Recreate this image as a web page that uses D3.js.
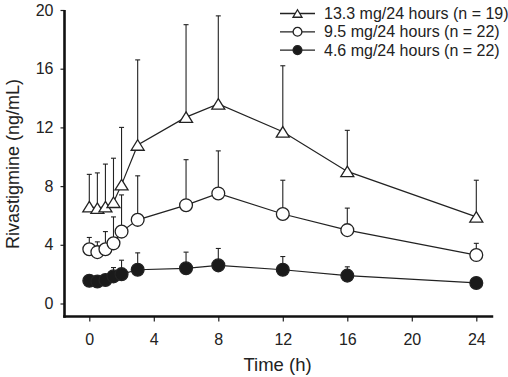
<!DOCTYPE html>
<html>
<head>
<meta charset="utf-8">
<script src="https://cdn.jsdelivr.net/npm/d3@7"></script>
<style>
  body { margin: 0; background: #fff; }
  svg text { font-family: "Liberation Sans", Arial, sans-serif; fill: #222; }
</style>
</head>
<body>
<div id="chart"></div>
<script>
// time points (h)
const time = [0, 0.5, 1, 1.5, 2, 3, 6, 8, 12, 16, 24];

// mean rivastigmine concentration (ng/mL) and SD (upper bar only)
const high = [6.6, 6.5, 6.6, 6.9, 8.1, 10.8, 12.7, 13.6, 11.7, 9.0, 5.9];
const highSd = [2.2, 2.4, 2.9, 3.0, 3.9, 5.8, 6.3, 6.0, 4.5, 2.8, 2.5];

const mid = [3.7, 3.5, 3.7, 4.1, 4.9, 5.7, 6.7, 7.5, 6.1, 5.0, 3.3];
const midSd = [0.8, 0.7, 1.2, 1.8, 2.5, 3.0, 3.1, 2.9, 2.3, 1.5, 0.8];

const low = [1.55, 1.5, 1.6, 1.85, 2.0, 2.3, 2.4, 2.6, 2.3, 1.9, 1.4];
const lowSd = [0.3, 0.3, 0.3, 0.6, 0.95, 1.15, 1.1, 1.15, 0.9, 0.6, 0.3];

const labels = ["13.3 mg/24 hours (n = 19)", "9.5 mg/24 hours (n = 22)", "4.6 mg/24 hours (n = 22)"];
const xTicks = [0, 4, 8, 12, 16, 20, 24];
const yTicks = [0, 4, 8, 12, 16, 20];

const width = 508;
const height = 377;

const svg = d3.select("#chart")
  .append("svg")
  .attr("width", width)
  .attr("height", height);

const x = d3.scaleLinear().domain([0, 24]).range([89.3, 476.3]);
const y = d3.scaleLinear().domain([0, 20]).range([303.5, 10]);

const axisX = 64.5;   // position of the y axis line
const axisY = 316.5;  // position of the x axis line

// y axis
const gy = svg.append("g")
  .attr("transform", `translate(${axisX},0)`)
  .call(d3.axisLeft(y).tickValues(yTicks).tickSize(4).tickPadding(7).tickSizeOuter(0));
gy.select(".domain").remove();
gy.selectAll(".tick line").attr("stroke", "#222").attr("stroke-width", 1.2);
gy.selectAll(".tick text").style("font-size", "16px");

// x axis
const gx = svg.append("g")
  .attr("transform", `translate(0,${axisY})`)
  .call(d3.axisBottom(x).tickValues(xTicks).tickSize(5).tickPadding(12).tickSizeOuter(0));
gx.select(".domain").remove();
gx.selectAll(".tick line").attr("stroke", "#222").attr("stroke-width", 1.2);
gx.selectAll(".tick text").style("font-size", "16px");

// axis lines
svg.append("line")
  .attr("x1", axisX).attr("x2", axisX)
  .attr("y1", y(20)).attr("y2", axisY + 1.2)
  .attr("stroke", "#111").attr("stroke-width", 2.6);
svg.append("line")
  .attr("x1", axisX - 1.3).attr("x2", x(25.05))
  .attr("y1", axisY).attr("y2", axisY)
  .attr("stroke", "#111").attr("stroke-width", 2.6);

// axis titles
svg.append("text")
  .attr("x", 277.5).attr("y", 371)
  .attr("text-anchor", "middle")
  .style("font-size", "18.5px")
  .text("Time (h)");

svg.append("text")
  .attr("transform", "translate(19,164) rotate(-90)")
  .attr("text-anchor", "middle")
  .style("font-size", "18px")
  .text("Rivastigmine (ng/mL)");

// series
const series = [
  { key: "high", mean: high, sd: highSd, shape: "tri" },
  { key: "mid", mean: mid, sd: midSd, shape: "open" },
  { key: "low", mean: low, sd: lowSd, shape: "filled" }
];

const line = d3.line().x(d => x(d.t)).y(d => y(d.v));

function triPath(w, h) {
  return `M0,${-h / 2}L${w / 2},${h / 2}L${-w / 2},${h / 2}Z`;
}

function drawMarker(g, shape, big) {
  if (shape === "tri") {
    g.append("path")
      .attr("d", big ? triPath(13, 10.5) : triPath(9, 7.5))
      .attr("fill", "#fff").attr("stroke", "#222").attr("stroke-width", 1.3);
  } else {
    g.append("circle")
      .attr("r", big ? 6.4 : 4.4)
      .attr("fill", shape === "filled" ? "#1a1a1a" : "#fff")
      .attr("stroke", "#222").attr("stroke-width", 1.3);
  }
}

series.forEach(s => {
  const pts = time.map((t, i) => ({ t, v: s.mean[i], sd: s.sd[i] }));
  const g = svg.append("g");

  // error bars (upper only)
  g.selectAll("line.err")
    .data(pts)
    .join("line")
    .attr("x1", d => x(d.t)).attr("x2", d => x(d.t))
    .attr("y1", d => y(d.v)).attr("y2", d => y(d.v + d.sd))
    .attr("stroke", "#222").attr("stroke-width", 1.1);
  g.selectAll("line.cap")
    .data(pts)
    .join("line")
    .attr("x1", d => x(d.t) - 2.5).attr("x2", d => x(d.t) + 2.5)
    .attr("y1", d => y(d.v + d.sd)).attr("y2", d => y(d.v + d.sd))
    .attr("stroke", "#222").attr("stroke-width", 1.1);

  g.append("path")
    .datum(pts)
    .attr("fill", "none")
    .attr("stroke", "#222")
    .attr("stroke-width", 1.2)
    .attr("d", line);

  pts.forEach(d => {
    const m = g.append("g").attr("transform", `translate(${x(d.t)},${y(d.v)})`);
    drawMarker(m, s.shape, true);
  });
});

// legend
const legend = svg.append("g");
series.forEach((s, i) => {
  const row = legend.append("g").attr("transform", `translate(0,${13.5 + i * 18.3})`);
  row.append("line")
    .attr("x1", 280).attr("x2", 315)
    .attr("stroke", "#222").attr("stroke-width", 1.3);
  const m = row.append("g").attr("transform", "translate(297.5,0)");
  drawMarker(m, s.shape, false);
  row.append("text")
    .attr("x", 324).attr("dy", "0.35em")
    .style("font-size", "16px")
    .text(labels[i]);
});
</script>
</body>
</html>
